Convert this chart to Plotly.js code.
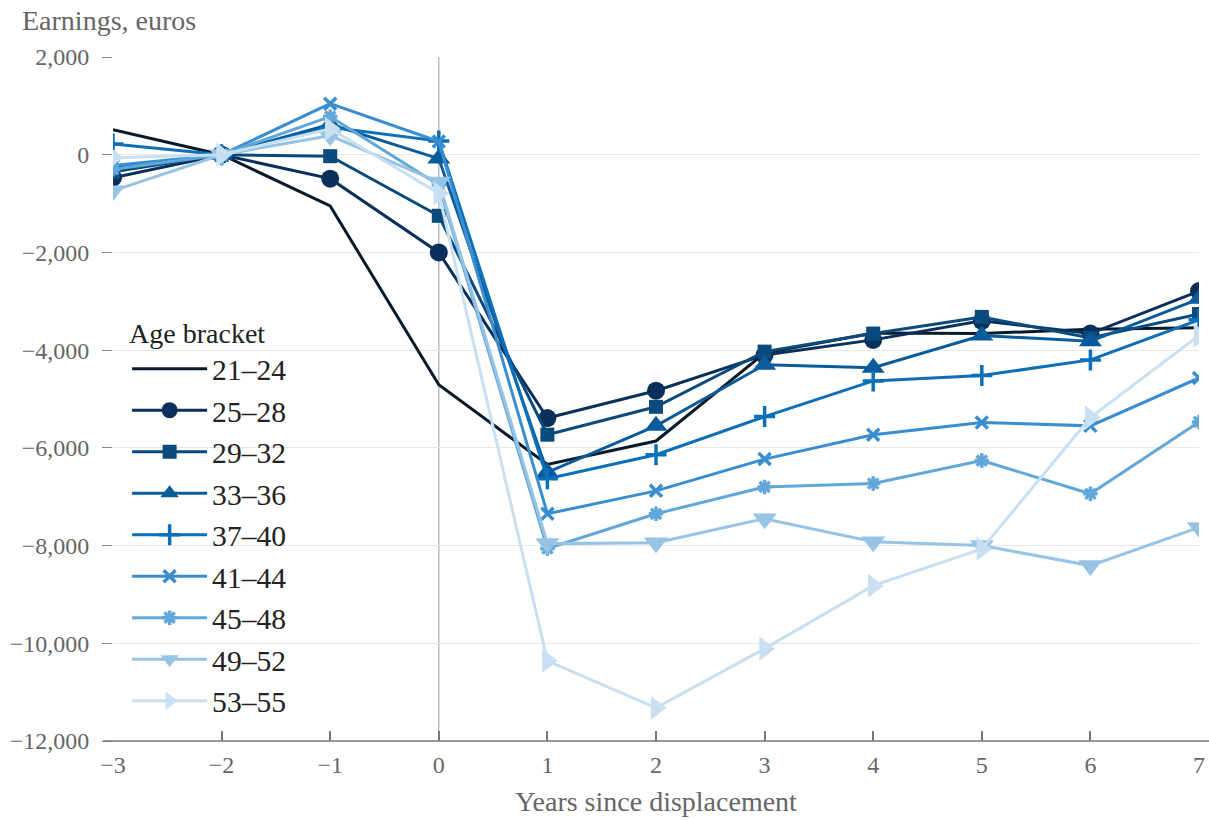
<!DOCTYPE html>
<html>
<head>
<meta charset="utf-8">
<script src="https://cdn.plot.ly/plotly-3.0.1.min.js"></script>
<style>
html,body{margin:0;padding:0;background:#fff;}
#chart{width:1209px;height:820px;}
</style>
</head>
<body>
<div id="chart"></div>
<script>
const years = [-3, -2, -1, 0, 1, 2, 3, 4, 5, 6, 7];
const ageBrackets = ["21–24", "25–28", "29–32", "33–36", "37–40", "41–44", "45–48", "49–52", "53–55"];
const age21_24 = [510, 0, -1050, -4710, -6340, -5860, -4060, -3650, -3660, -3570, -3540];
const age25_28 = [-470, 0, -490, -2000, -5390, -4830, -4100, -3790, -3400, -3660, -2790];
const age29_32 = [-350, 0, -30, -1250, -5730, -5160, -4030, -3660, -3320, -3750, -3260];
const age33_36 = [-250, 0, 620, -80, -6500, -5550, -4300, -4360, -3700, -3820, -2950];
const age37_40 = [220, 0, 560, 280, -6630, -6140, -5360, -4630, -4520, -4200, -3380];
const age41_44 = [-220, 0, 1045, 270, -7350, -6880, -6230, -5730, -5480, -5550, -4570];
const age45_48 = [-300, 0, 780, -620, -8060, -7350, -6800, -6730, -6260, -6940, -5470];
const age49_52 = [-740, 0, 390, -560, -7960, -7940, -7450, -7920, -8000, -8410, -7630];
const age53_55 = [-60, 0, 530, -790, -10360, -11320, -10110, -8820, -8070, -5380, -3700];

const seriesValues = [age21_24, age25_28, age29_32, age33_36, age37_40, age41_44, age45_48, age49_52, age53_55];
const colors = ["#081a2b", "#08305a", "#0b4a7d", "#095b9b", "#0b6fba", "#3a8ecf", "#62a7da", "#97c4e5", "#c8e0f1"];
const symbols = [null, "circle", "square", "triangle-up", "cross-thin-open", "x-thin-open", "asterisk-open", "triangle-down", "triangle-right"];
const sizes = [0, 18, 14, 20, 15, 12, 12, 21, 21];

const FONT = "Liberation Serif, serif";
const GRAY = "#666666";

const traces = seriesValues.map((vals, i) => {
  const t = {
    x: years,
    y: vals,
    name: ageBrackets[i],
    type: "scatter",
    mode: symbols[i] ? "lines+markers" : "lines",
    line: {color: colors[i], width: 3},
    hoverinfo: "x+y+name"
  };
  if (symbols[i]) {
    const open = symbols[i].endsWith("open");
    t.marker = {
      symbol: symbols[i],
      size: sizes[i],
      color: colors[i],
      line: {color: colors[i], width: open ? 3.5 : 0}
    };
  }
  return t;
});

const PW = 1086;
const layout = {
  width: 1209,
  height: 820,
  margin: {l: 113, r: 10, t: 57, b: 79},
  paper_bgcolor: "#ffffff",
  plot_bgcolor: "#ffffff",
  font: {family: FONT, color: GRAY, size: 24},
  showlegend: true,
  legend: {
    x: 0.013, y: 0.635, xanchor: "left", yanchor: "top",
    bgcolor: "rgba(255,255,255,0)",
    title: {text: "Age bracket", font: {family: FONT, size: 28, color: "#222222"}},
    font: {family: FONT, size: 29.6, color: "#222222"},
    itemwidth: 75
  },
  xaxis: {
    range: [-3, 7],
    tickvals: years,
    ticktext: years.map(v => v < 0 ? "\u2212" + Math.abs(v) : String(v)),
    showgrid: false,
    zeroline: false,
    showline: false,
    ticks: "inside",
    ticklen: 10,
    tickcolor: "#777777",
    tickwidth: 1.5,
    ticklabelstandoff: 7,
    tickfont: {family: FONT, size: 24, color: GRAY},
    title: {text: "Years since displacement", font: {family: FONT, size: 28, color: GRAY}, standoff: 14}
  },
  yaxis: {
    range: [-12000, 2000],
    dtick: 2000,
    tickformat: ",d",
    showgrid: true,
    gridcolor: "#e8e8e8",
    gridwidth: 1.2,
    zeroline: false,
    showline: false,
    ticks: "outside",
    ticklen: 10,
    tickcolor: "#888888",
    tickwidth: 1.2,
    ticklabelstandoff: 8,
    tickfont: {family: FONT, size: 24, color: GRAY}
  },
  shapes: [{
    type: "line", xref: "x", yref: "paper",
    x0: 0, x1: 0, y0: 0, y1: 1,
    line: {color: "#aaaaaa", width: 1.2},
    layer: "below"
  }, {
    type: "line", xref: "paper", yref: "paper",
    x0: -10 / PW, x1: 1 + 10 / PW, y0: 0, y1: 0,
    line: {color: "#777777", width: 1.5},
    layer: "above"
  }],
  annotations: [{
    text: "Earnings, euros",
    xref: "paper", yref: "paper",
    x: (20 - 113) / PW, y: 1,
    xanchor: "left", yanchor: "middle",
    yshift: 37,
    showarrow: false,
    font: {family: FONT, size: 28, color: GRAY}
  }]
};

Plotly.newPlot("chart", traces, layout, {displayModeBar: false, responsive: false});
</script>
</body>
</html>
